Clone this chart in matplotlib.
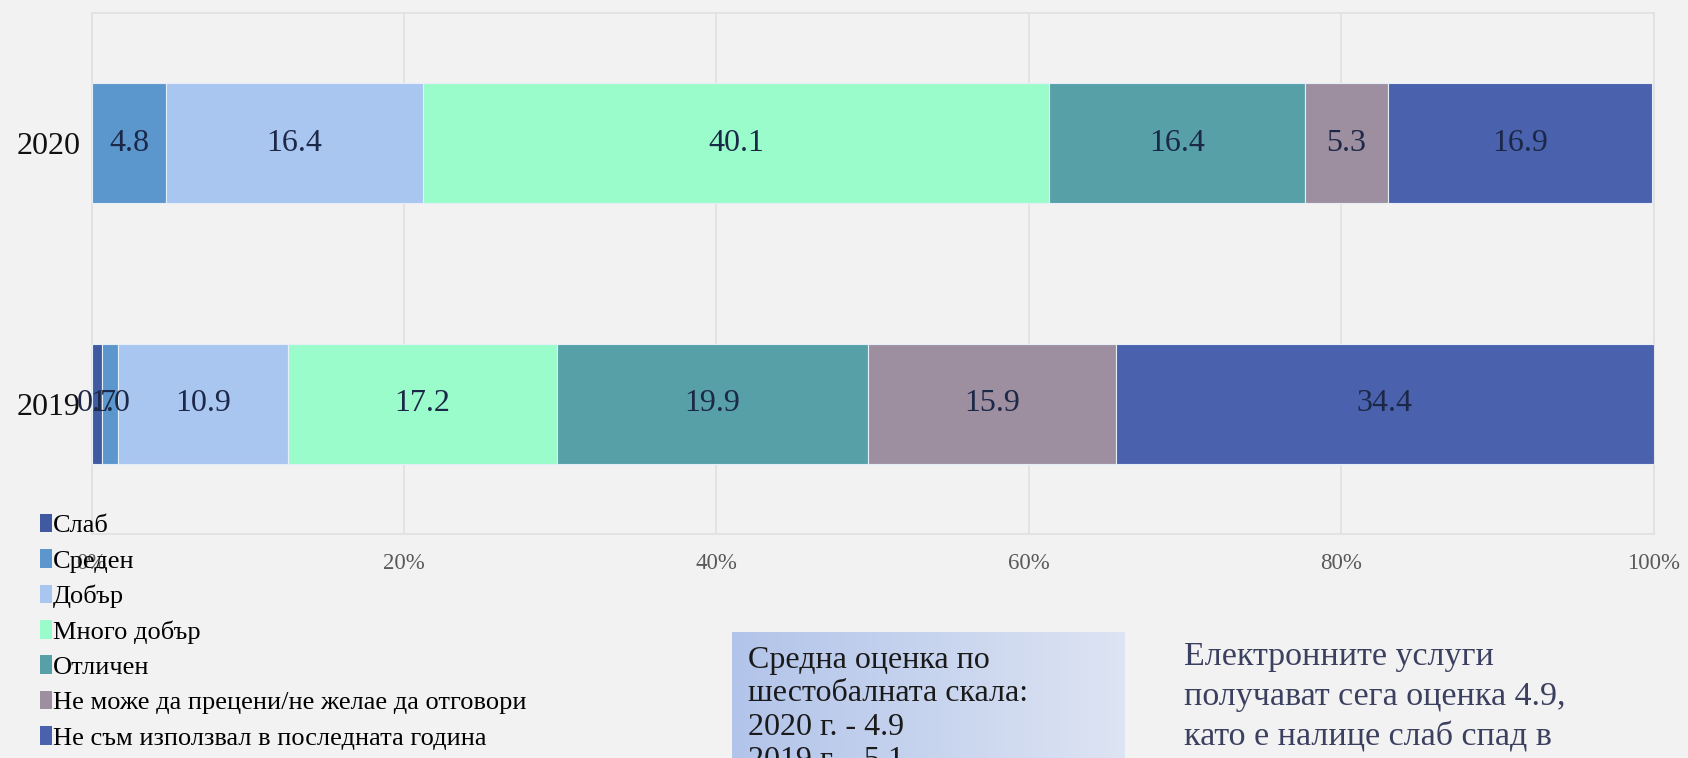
import numpy as np
import matplotlib

matplotlib.use("Agg")
import matplotlib.pyplot as plt
from matplotlib.patches import Patch
from matplotlib.colors import LinearSegmentedColormap

plt.rcParams["font.family"] = ["Liberation Serif", "DejaVu Serif"]

# --- data ---------------------------------------------------------------
years = ["2019", "2020"]
categories = [
    "Слаб",
    "Среден",
    "Добър",
    "Много добър",
    "Отличен",
    "Не може да прецени/не желае да отговори",
    "Не съм използвал в последната година",
]
values_2019 = [0.7, 1.0, 10.9, 17.2, 19.9, 15.9, 34.4]
values_2020 = [0.0, 4.8, 16.4, 40.1, 16.4, 5.3, 16.9]
xticks = [0, 20, 40, 60, 80, 100]

box_text = "Средна оценка по\nшестобалната скала:\n2020 г. - 4.9\n2019 г. - 5.1"
side_text = "Електронните услуги\nполучават сега оценка 4.9,\nкато е налице слаб спад в\nсравнение с 2019 г."

colors = ["#3f5aa0", "#5b97cc", "#a9c6f0", "#99fcca", "#57a0a8", "#9e8fa0", "#4a62ad"]
BG = "#f2f2f2"

W, H = 1688, 758
fig = plt.figure(figsize=(W / 100, H / 100), dpi=100, facecolor=BG)
ax = fig.add_axes([91.5 / W, 1 - 534 / H, (1653.5 - 91.5) / W, (534 - 13) / H])
ax.set_facecolor(BG)

data = np.array([values_2019, values_2020])
y = np.arange(len(years))
left = np.zeros(len(years))
for i, cat in enumerate(categories):
    vals = data[:, i]
    ax.barh(y, vals, left=left, height=0.46, color=colors[i],
            edgecolor="#e6eef8", linewidth=0.8, label=cat, zorder=3)
    for yy, v, l in zip(y, vals, left):
        if v > 0:
            ax.text(l + v / 2, yy, f"{v:.1f}", ha="center", va="center",
                    fontsize=23, color="#1c2848", zorder=4)
    left += vals

ax.set_xlim(0, 100)
ax.set_ylim(-0.5, 1.5)
ax.set_xticks(xticks)
ax.set_xticklabels([f"{t}%" for t in xticks], fontsize=16.5, color="#595959")
ax.set_yticks(y)
ax.set_yticklabels(years, fontsize=23, color="#111111")
ax.tick_params(length=0)
ax.tick_params(axis="x", pad=14)
ax.tick_params(axis="y", pad=8)
ax.grid(axis="x", color="#e0e0e0", linewidth=1.2, zorder=0)
for s in ax.spines.values():
    s.set_color("#e0e0e0")
    s.set_linewidth(1.2)

# legend sits over the 0% tick label, as in the source
handles = [Patch(facecolor=c, edgecolor="none") for c in colors]
fig.legend(handles, categories, loc="upper left", bbox_to_anchor=(40 / W, 1 - 514 / H),
           frameon=False, fontsize=19, handlelength=0.45, handleheight=0.7,
           handletextpad=0.05, labelspacing=0.45, borderaxespad=0, borderpad=0)

# gradient box with the mean score (cut by the bottom edge, like the source)
bx = fig.add_axes([732 / W, 0, (1125 - 732) / W, (758 - 632) / H])
grad = np.linspace(0, 1, 256).reshape(1, -1)
cmap = LinearSegmentedColormap.from_list("box", ["#b2c4ea", "#dde4f3"])
bx.imshow(grad, aspect="auto", cmap=cmap, extent=[0, 1, 0, 1])
bx.set_axis_off()
fig.text(748 / W, 1 - 646 / H, box_text, ha="left", va="top", fontsize=23,
         color="#1a1a1a", linespacing=1.2)

fig.text(1184 / W, 1 - 642 / H, side_text, ha="left", va="top", fontsize=24.5,
         color="#3c4060", linespacing=1.38)

fig.savefig("out.png", dpi=100, facecolor=BG)
